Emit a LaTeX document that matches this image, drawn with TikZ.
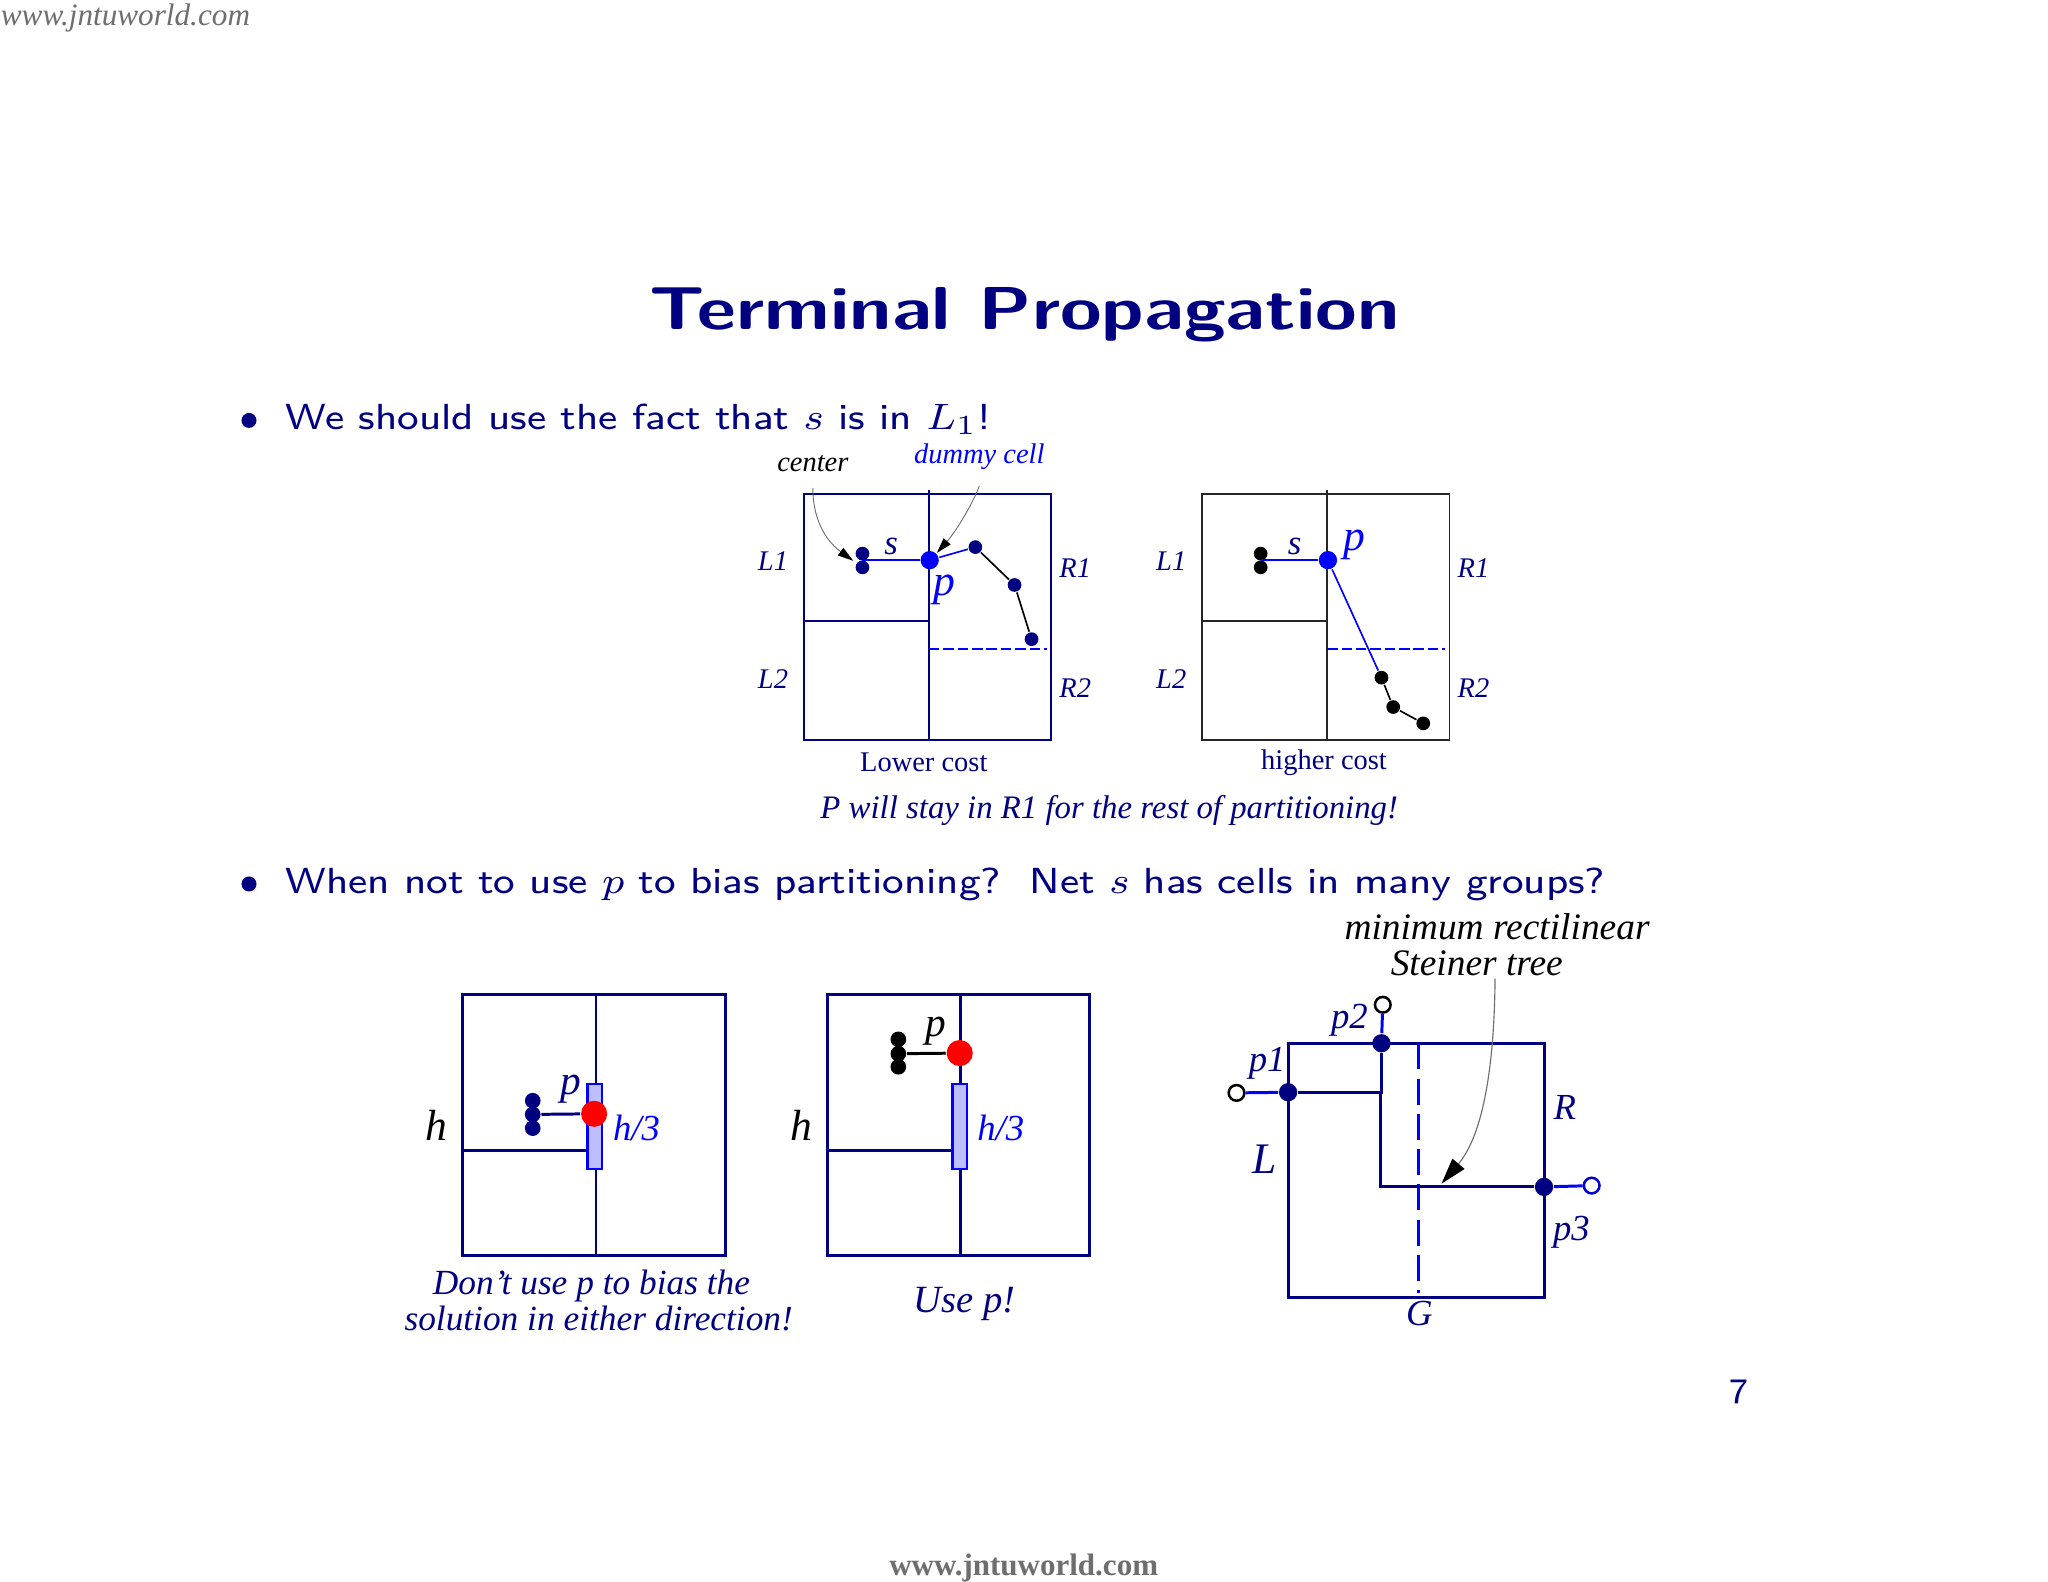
\documentclass[tikz,border=0pt]{standalone}
\usepackage[no-math]{fontspec}
\setmainfont{Liberation Serif}
\usepackage{amsmath, amssymb}
\usetikzlibrary{arrows.meta, positioning}
\definecolor{slidenavy}{RGB}{0, 0, 128}
\definecolor{cellblue}{RGB}{0, 0, 255}
\definecolor{barblue}{RGB}{190, 190, 255}
\definecolor{markgray}{RGB}{110, 110, 110}
\tikzset{
  thinwire/.style={line width=0.36pt},
  heavywire/.style={line width=0.65pt},
  pin/.style={circle, fill=slidenavy, inner sep=0pt, minimum size=0.105cm},
  blackpin/.style={pin, fill=black},
  bulletdot/.style={pin, minimum size=0.115cm},
  dummy/.style={circle, fill=cellblue, inner sep=0pt, minimum size=0.14cm},
  reddummy/.style={circle, fill=red, inner sep=0pt, minimum size=0.2cm},
  terminal/.style={circle, fill=slidenavy, inner sep=0pt, minimum size=0.14cm},
  opendot/.style={circle, draw=black, fill=white, line width=0.55pt, inner sep=0pt, minimum size=0.12cm},
  hbar/.style={draw=cellblue, fill=barblue, line width=0.5pt},
  callout/.style={draw=markgray, line width=0.2pt, -{Stealth[inset=0pt, length=0.12cm, width=0.07cm, black]}},
  bigcallout/.style={draw=markgray, line width=0.25pt, -{Stealth[inset=0pt, length=0.2cm, width=0.12cm, black]}},
  smalllab/.style={font=\fontsize{6.2}{7}\selectfont\itshape, slidenavy},
  midlab/.style={font=\fontsize{8}{9}\selectfont\itshape, slidenavy},
  notelab/.style={font=\fontsize{7.7}{9}\selectfont\itshape, slidenavy},
  treelab/.style={font=\fontsize{8.15}{9}\selectfont\itshape, black},
  biglab/.style={font=\fontsize{9.5}{10}\selectfont\itshape, black},
  body/.style={font=\fontsize{7.9}{10}\sffamily\selectfont, slidenavy, anchor=base west, inner sep=0pt, transform shape, xscale=1.12},
}
\begin{document}
\begin{tikzpicture}
  \useasboundingbox (0, -0.045) rectangle (15.685, 12.07);

  % === page text ===
  \node[font=\fontsize{6.8}{7}\selectfont\itshape, markgray, anchor=west, inner sep=0pt] (siteTop) at (0, 11.93) {www.jntuworld.com};
  \node[font=\fontsize{6.76}{7}\selectfont\bfseries, markgray] (siteBottom) at (7.84, 0.06) {www.jntuworld.com};
  \node[font=\fontsize{13.2}{16}\sffamily\bfseries\selectfont, slidenavy, anchor=base, transform shape, xscale=1.25] (title) at (7.845, 9.543) {Terminal Propagation};
  \node[bulletdot] (bulletOne) at (1.907, 8.85) {};
  \node[bulletdot] (bulletTwo) at (1.907, 5.30) {};
  \node[body] (lineOne) at (2.18, 8.78) {We should use the fact that $s$ is in $L_1$!};
  \node[body] (lineTwo) at (2.18, 5.23) {When not to use $p$ to bias partitioning?\ \ Net $s$ has cells in many groups?};
  \node[font=\fontsize{7.8}{9}\sffamily\selectfont, slidenavy] (pageNum) at (13.32, 1.41) {7};
  \node[font=\fontsize{7.15}{8}\selectfont\itshape, slidenavy] (stayNote) at (8.495, 5.86) {P will stay in R1 for the rest of partitioning!};

  % === lower cost ===
  \begin{scope}[xshift=6.155cm, yshift=6.405cm]
    \draw[thinwire, slidenavy] (0, 0) rectangle (1.895, 1.88);
    \draw[thinwire, slidenavy] (0.96, 0) -- (0.96, 1.91);
    \draw[thinwire, slidenavy] (0, 0.91) -- (0.96, 0.91);
    \draw[line width=0.4pt, cellblue, dash pattern=on 0.08cm off 0.03cm] (0.96, 0.695) -- (1.86, 0.695);
    \node[pin] (aLow) at (0.45, 1.32) {};
    \node[pin] (aHigh) at (0.45, 1.425) {};
    \coordinate (aNet) at (0.45, 1.375);
    \coordinate (aTip) at (0.38, 1.37);
    \node[dummy] (aDummy) at (0.965, 1.375) {};
    \node[pin] (aOne) at (1.315, 1.475) {};
    \node[pin] (aTwo) at (1.615, 1.185) {};
    \node[pin] (aThree) at (1.745, 0.77) {};
    \draw[thinwire, cellblue] (aNet) -- (aDummy);
    \draw[thinwire, cellblue] (aDummy) -- (aOne);
    \draw[thinwire] (aOne) -- (aTwo);
    \draw[thinwire] (aTwo) -- (aThree);
    \node[smalllab] (aLa) at (-0.235, 1.365) {L1};
    \node[smalllab] (aLb) at (-0.235, 0.465) {L2};
    \node[smalllab] (aRa) at (2.08, 1.315) {R1};
    \node[smalllab] (aRb) at (2.08, 0.395) {R2};
    \node[smalllab, font=\fontsize{7.6}{8}\selectfont\itshape] (aS) at (0.67, 1.48) {s};
    \node[midlab, cellblue, font=\fontsize{9.5}{10}\selectfont\itshape] (aP) at (1.08, 1.15) {p};
    \node[smalllab, font=\fontsize{6.2}{7}\selectfont] (aCost) at (0.92, -0.175) {Lower cost};
    \node[smalllab, black] (aCenter) at (0.07, 2.115) {center};
    \node[smalllab, cellblue] (aCell) at (1.345, 2.165) {dummy cell};
    \draw[callout] (aCenter.south) .. controls (0.07, 1.65) and (0.2, 1.5) .. (aTip);
    \draw[callout] (aCell.south) .. controls (1.29, 1.8) and (1.17, 1.6) .. (aDummy.north east);
  \end{scope}

  % === higher cost ===
  \begin{scope}[xshift=9.205cm, yshift=6.405cm]
    \draw[thinwire, black!85] (0, 0) rectangle (1.895, 1.88);
    \draw[thinwire, black!85] (0.96, 0) -- (0.96, 1.91);
    \draw[thinwire, black!85] (0, 0.91) -- (0.96, 0.91);
    \draw[line width=0.4pt, cellblue, dash pattern=on 0.08cm off 0.03cm] (0.96, 0.695) -- (1.86, 0.695);
    \node[blackpin] (bLow) at (0.45, 1.32) {};
    \node[blackpin] (bHigh) at (0.45, 1.425) {};
    \coordinate (bNet) at (0.45, 1.375);
    \node[dummy] (bDummy) at (0.965, 1.375) {};
    \node[blackpin] (bOne) at (1.375, 0.475) {};
    \node[blackpin] (bTwo) at (1.465, 0.25) {};
    \node[blackpin] (bThree) at (1.695, 0.125) {};
    \draw[thinwire, cellblue] (bNet) -- (bDummy);
    \draw[thinwire, cellblue] (bDummy) -- (bOne);
    \draw[thinwire] (bOne) -- (bTwo);
    \draw[thinwire] (bTwo) -- (bThree);
    \node[smalllab] (bLa) at (-0.235, 1.365) {L1};
    \node[smalllab] (bLb) at (-0.235, 0.465) {L2};
    \node[smalllab] (bRa) at (2.08, 1.315) {R1};
    \node[smalllab] (bRb) at (2.08, 0.395) {R2};
    \node[smalllab, font=\fontsize{7.6}{8}\selectfont\itshape] (bS) at (0.71, 1.48) {s};
    \node[midlab, cellblue, font=\fontsize{9.5}{10}\selectfont\itshape] (bP) at (1.17, 1.49) {p};
    \node[smalllab, font=\fontsize{6.2}{7}\selectfont] (bCost) at (0.935, -0.18) {higher cost};
  \end{scope}

  % === do not use p ===
  \begin{scope}[xshift=3.545cm, yshift=2.455cm]
    \draw[heavywire, slidenavy] (0, 0) rectangle (2.01, 2.0);
    \draw[slidenavy, line width=0.5pt] (1.02, 0) -- (1.02, 2.0);
    \draw[heavywire, slidenavy] (0, 0.805) -- (0.955, 0.805);
    \draw[hbar] (0.955, 0.66) rectangle (1.065, 1.315);
    \node[pin, minimum size=0.12cm] (cLow) at (0.535, 0.975) {};
    \node[pin, minimum size=0.12cm] (cHigh) at (0.535, 1.185) {};
    \node[pin, minimum size=0.12cm] (cMid) at (0.535, 1.08) {};
    \node[reddummy] (cDummy) at (1.005, 1.085) {};
    \draw[heavywire, slidenavy] (cMid) -- (cDummy);
    \node[midlab, font=\fontsize{9}{10}\selectfont\itshape] (cP) at (0.825, 1.27) {p};
    \node[biglab] (cH) at (-0.2, 0.995) {h};
    \node[midlab, cellblue] (cThird) at (1.33, 0.975) {h/3};
    \node[notelab] (cNoteA) at (0.985, -0.235) {Don’t use p to bias the};
    \node[notelab] (cNoteB) at (1.04, -0.485) {solution in either direction!};
  \end{scope}

  % === use p ===
  \begin{scope}[xshift=6.335cm, yshift=2.455cm]
    \draw[heavywire, slidenavy] (0, 0) rectangle (2.01, 2.0);
    \draw[slidenavy, line width=0.5pt] (1.02, 0) -- (1.02, 2.0);
    \draw[heavywire, slidenavy] (0, 0.805) -- (0.96, 0.805);
    \draw[hbar] (0.96, 0.66) rectangle (1.07, 1.315);
    \node[blackpin, minimum size=0.12cm] (dLow) at (0.545, 1.445) {};
    \node[blackpin, minimum size=0.12cm] (dHigh) at (0.545, 1.655) {};
    \node[blackpin, minimum size=0.12cm] (dMid) at (0.545, 1.545) {};
    \node[reddummy] (dDummy) at (1.015, 1.55) {};
    \draw[heavywire, black] (dMid) -- (dDummy);
    \node[midlab, black, font=\fontsize{9}{10}\selectfont\itshape] (dP) at (0.835, 1.72) {p};
    \node[biglab] (dH) at (-0.2, 0.995) {h};
    \node[midlab, cellblue] (dThird) at (1.33, 0.975) {h/3};
    \node[midlab, font=\fontsize{8.4}{9}\selectfont\itshape] (dNote) at (1.05, -0.37) {Use p!};
  \end{scope}

  % === steiner tree ===
  \begin{scope}[xshift=9.865cm, yshift=2.135cm]
    \node[treelab] (eTextA) at (1.6, 2.84) {minimum rectilinear};
    \node[treelab] (eTextB) at (1.445, 2.555) {Steiner tree};
    \draw[heavywire, slidenavy] (0, 0) rectangle (1.96, 1.945);
    \draw[heavywire, cellblue, dash pattern=on 0.2cm off 0.07cm] (0.995, 1.945) -- (0.995, 0.03);
    \node[terminal] (eOne) at (0, 1.57) {};
    \node[terminal] (eTwo) at (0.715, 1.945) {};
    \node[terminal] (eThree) at (1.96, 0.845) {};
    \coordinate (eBendOne) at (0.715, 1.57);
    \coordinate (eBendTwo) at (0.705, 1.555);
    \coordinate (eBendThree) at (0.705, 0.845);
    \coordinate (eStart) at (1.585, 2.44);
    \coordinate (eTip) at (1.175, 0.87);
    \node[opendot] (eOutOne) at (-0.395, 1.565) {};
    \node[opendot] (eOutTwo) at (0.725, 2.24) {};
    \node[opendot, draw=cellblue!60!slidenavy] (eOutThree) at (2.325, 0.855) {};
    \draw[heavywire, slidenavy] (eOne) -- (eBendOne) -- (eTwo);
    \draw[heavywire, slidenavy] (eBendTwo) -- (eBendThree) -- (eThree);
    \draw[heavywire, cellblue] (eOutOne) -- (eOne);
    \draw[heavywire, cellblue] (eOutTwo) -- (eTwo);
    \draw[heavywire, cellblue] (eOutThree) -- (eThree);
    \node[midlab] (ePa) at (-0.16, 1.795) {p1};
    \node[midlab] (ePb) at (0.47, 2.12) {p2};
    \node[midlab] (ePc) at (2.17, 0.5) {p3};
    \node[midlab] (eR) at (2.12, 1.455) {R};
    \node[midlab, font=\fontsize{9.5}{10}\selectfont\itshape] (eL) at (-0.18, 1.055) {L};
    \node[midlab] (eG) at (1.005, -0.125) {G};
    \draw[bigcallout] (eStart) .. controls (1.58, 1.8) and (1.5, 1.25) .. (eTip);
  \end{scope}
\end{tikzpicture}
\end{document}
